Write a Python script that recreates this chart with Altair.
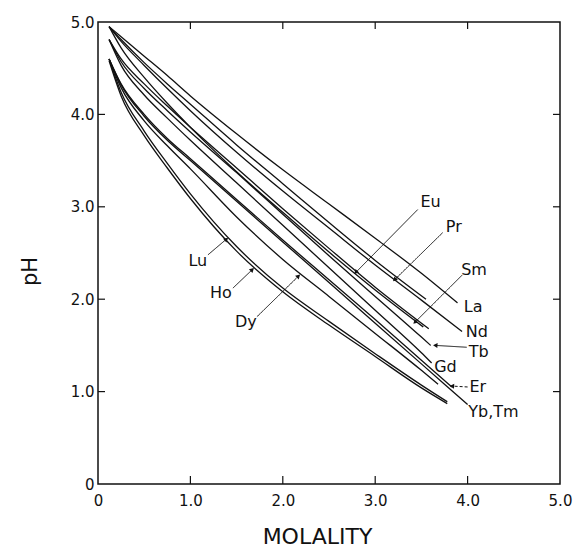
import math
import altair as alt
import pandas as pd

# ---- curve data (molality, pH) ----
x_La = [0.12, 0.25, 0.5, 0.75, 1.0, 1.5, 2.0, 2.5, 3.0, 3.5, 3.89]
y_La = [4.95, 4.84, 4.63, 4.42, 4.20, 3.79, 3.40, 3.03, 2.66, 2.28, 1.96]

x_Pr = [0.12, 0.25, 0.5, 0.75, 1.0, 1.5, 2.0, 2.5, 3.0, 3.55]
y_Pr = [4.95, 4.81, 4.56, 4.33, 4.11, 3.67, 3.25, 2.83, 2.42, 2.00]

x_Nd = [0.12, 0.25, 0.5, 0.75, 1.0, 1.5, 2.0, 2.5, 3.0, 3.5, 3.94]
y_Nd = [4.95, 4.79, 4.53, 4.28, 4.04, 3.59, 3.17, 2.77, 2.37, 1.99, 1.65]

x_Sm = [0.12, 0.25, 0.5, 0.75, 1.0, 1.5, 2.0, 2.5, 3.0, 3.52]
y_Sm = [4.95, 4.72, 4.40, 4.12, 3.86, 3.38, 2.94, 2.51, 2.10, 1.70]

x_Eu = [0.12, 0.25, 0.5, 0.75, 1.0, 1.5, 2.0, 2.5, 3.0, 3.58]
y_Eu = [4.81, 4.60, 4.33, 4.09, 3.86, 3.42, 2.98, 2.55, 2.13, 1.68]

x_Gd = [0.12, 0.25, 0.5, 0.75, 1.0, 1.5, 2.0, 2.5, 3.0, 3.5, 3.61]
y_Gd = [4.81, 4.53, 4.21, 3.96, 3.72, 3.26, 2.80, 2.34, 1.88, 1.42, 1.31]

x_Tb = [0.12, 0.25, 0.5, 0.75, 1.0, 1.5, 2.0, 2.5, 3.0, 3.5, 3.60]
y_Tb = [4.81, 4.57, 4.28, 4.04, 3.81, 3.37, 2.92, 2.47, 2.03, 1.59, 1.50]

x_Dy = [0.12, 0.25, 0.5, 0.75, 1.0, 1.5, 2.0, 2.5, 3.0, 3.5, 3.68]
y_Dy = [4.60, 4.29, 3.93, 3.66, 3.41, 2.89, 2.43, 2.03, 1.63, 1.23, 1.08]

x_Ho = [0.12, 0.25, 0.5, 0.75, 1.0, 1.5, 2.0, 2.5, 3.0, 3.5, 3.78]
y_Ho = [4.58, 4.20, 3.77, 3.42, 3.09, 2.52, 2.08, 1.72, 1.38, 1.04, 0.87]

x_Er = [0.12, 0.25, 0.5, 0.75, 1.0, 1.5, 2.0, 2.5, 3.0, 3.5, 3.83]
y_Er = [4.60, 4.33, 4.00, 3.74, 3.52, 3.08, 2.64, 2.21, 1.78, 1.34, 1.05]

x_YbTm = [0.12, 0.25, 0.5, 0.75, 1.0, 1.5, 2.0, 2.5, 3.0, 3.5, 4.0]
y_YbTm = [4.60, 4.32, 3.98, 3.72, 3.50, 3.06, 2.62, 2.18, 1.74, 1.30, 0.86]

x_Lu = [0.12, 0.25, 0.5, 0.75, 1.0, 1.5, 2.0, 2.5, 3.0, 3.5, 3.78]
y_Lu = [4.60, 4.24, 3.82, 3.47, 3.14, 2.57, 2.12, 1.76, 1.41, 1.07, 0.89]

# ---- labels ----
label_text = ["Lu", "Ho", "Dy", "Eu", "Pr", "Sm", "La", "Nd", "Tb", "Gd", "Er", "Yb,Tm"]
label_x = [1.08, 1.33, 1.60, 3.60, 3.85, 4.07, 4.06, 4.10, 4.12, 3.76, 4.11, 4.28]
label_y = [2.41, 2.07, 1.75, 3.05, 2.78, 2.32, 1.92, 1.65, 1.43, 1.27, 1.05, 0.78]

# ---- leader lines (from label to curve) ----
lead_name = ["Lu", "Ho", "Dy", "Eu", "Pr", "Sm", "Tb", "Er"]
lead_x1 = [1.19, 1.46, 1.72, 3.46, 3.73, 3.94, 3.99, 4.00]
lead_y1 = [2.48, 2.12, 1.81, 2.97, 2.72, 2.26, 1.48, 1.05]
lead_x2 = [1.39, 1.67, 2.17, 2.79, 3.21, 3.43, 3.65, 3.83]
lead_y2 = [2.65, 2.32, 2.25, 2.29, 2.21, 1.75, 1.50, 1.06]
lead_dash = ["solid", "solid", "solid", "solid", "solid", "solid", "solid", "dash"]

tick_vals = [1, 2, 3, 4]

curves = {
    "La": (x_La, y_La), "Pr": (x_Pr, y_Pr), "Nd": (x_Nd, y_Nd),
    "Sm": (x_Sm, y_Sm), "Eu": (x_Eu, y_Eu), "Gd": (x_Gd, y_Gd),
    "Tb": (x_Tb, y_Tb), "Dy": (x_Dy, y_Dy), "Ho": (x_Ho, y_Ho),
    "Er": (x_Er, y_Er), "Yb,Tm": (x_YbTm, y_YbTm), "Lu": (x_Lu, y_Lu),
}
rows = []
for el, (xs_, ys_) in curves.items():
    for i, (a, b) in enumerate(zip(xs_, ys_)):
        rows.append({"el": el, "m": a, "ph": b, "i": i})
df = pd.DataFrame(rows)

ld = pd.DataFrame({"name": lead_name, "x1": lead_x1, "y1": lead_y1,
                   "x2": lead_x2, "y2": lead_y2, "dash": lead_dash})
ld["ang"] = [math.degrees(math.atan2(a2 - a1, b2 - b1)) % 360
             for a1, b1, a2, b2 in zip(lead_x1, lead_y1, lead_x2, lead_y2)]

lab = pd.DataFrame({"t": label_text, "x": label_x, "y": label_y})
tdf = pd.DataFrame({"t": tick_vals})

FONT = "DejaVu Sans"
INK = "#111111"
xs = alt.Scale(domain=[0, 5], nice=False, zero=False)
ys = alt.Scale(domain=[0, 5], nice=False, zero=False)
lblexpr = "datum.value == 0 ? '0' : format(datum.value, '.1f')"

XAX = alt.Axis(
    values=[0, 1, 2, 3, 4, 5], labelExpr=lblexpr, ticks=False, domain=False, grid=False,
    labelFont=FONT, labelFontSize=15, labelColor=INK, labelPadding=9,
    labelFlush=False, labelOverlap=False, title="MOLALITY", titleFont=FONT,
    titleFontSize=22, titleFontWeight="normal", titleColor=INK,
    titleX=219, titleY=59, titleBaseline="alphabetic", titleAlign="center")
YAX = alt.Axis(
    values=[0, 1, 2, 3, 4, 5], labelExpr=lblexpr, ticks=False, domain=False, grid=False,
    labelFont=FONT, labelFontSize=15, labelColor=INK, labelPadding=4,
    labelFlush=False, labelOverlap=False, title="pH", titleFont=FONT,
    titleFontSize=21, titleFontWeight="normal", titleColor=INK,
    titleX=-68, titleY=249, titleAngle=270, titleAlign="center", titleBaseline="middle")

lines = alt.Chart(df).mark_line(color=INK, strokeWidth=1.3, interpolate="monotone").encode(
    x=alt.X("m:Q", scale=xs, axis=XAX),
    y=alt.Y("ph:Q", scale=ys, axis=YAX),
    detail="el:N",
    order="i:Q",
)

leaders = alt.Chart(ld).mark_rule(color=INK, strokeWidth=1).encode(
    x=alt.X("x1:Q", scale=xs, axis=XAX),
    y=alt.Y("y1:Q", scale=ys, axis=YAX),
    x2="x2:Q", y2="y2:Q",
    strokeDash=alt.StrokeDash("dash:N", scale=alt.Scale(domain=["solid", "dash"],
                                                        range=[[1, 0], [3, 2]]), legend=None),
)

heads = alt.Chart(ld).mark_point(shape="triangle-up", filled=True, size=26, color=INK, opacity=1).encode(
    x=alt.X("x2:Q", scale=xs, axis=XAX),
    y=alt.Y("y2:Q", scale=ys, axis=YAX),
    angle=alt.Angle("ang:Q", scale=None),
)

texts = alt.Chart(lab).mark_text(font=FONT, fontSize=16, color=INK, align="center", baseline="middle").encode(
    x=alt.X("x:Q", scale=xs, axis=XAX),
    y=alt.Y("y:Q", scale=ys, axis=YAX),
    text="t:N",
)

tk = alt.Chart(tdf).mark_rule(color=INK, strokeWidth=1.2)
t_left = tk.encode(y=alt.Y("t:Q", scale=ys, axis=YAX), x=alt.value(0), x2=alt.value(7))
t_right = tk.encode(y=alt.Y("t:Q", scale=ys, axis=YAX), x=alt.value(455), x2=alt.value(462))
t_bot = tk.encode(x=alt.X("t:Q", scale=xs, axis=XAX), y=alt.value(462), y2=alt.value(454))
t_top = tk.encode(x=alt.X("t:Q", scale=xs, axis=XAX), y=alt.value(0), y2=alt.value(7))

chart = alt.layer(lines, leaders, heads, texts, t_left, t_right, t_bot, t_top).properties(
    width=462, height=462,
    padding={"left": 98, "top": 22, "right": 15, "bottom": 67},
    autosize=alt.AutoSizeParams(type="none"),
    background="white",
).configure_view(stroke=INK, strokeWidth=1.5)

chart.save("out.html", embed_options={"renderer": "svg", "actions": False})
